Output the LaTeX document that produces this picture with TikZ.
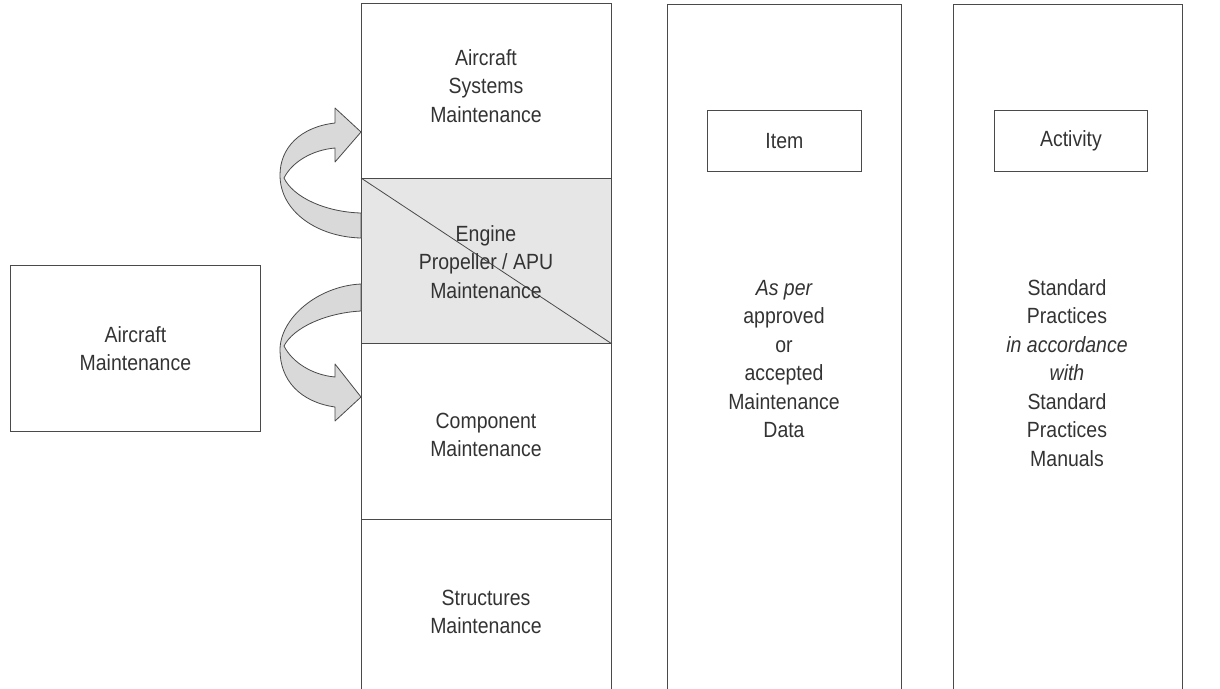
\documentclass[tikz,border=0pt]{standalone}
\usepackage{fontspec}
\setmainfont{Liberation Sans}[FakeStretch=0.885]
\definecolor{linegray}{HTML}{4A4A4A}
\definecolor{textgray}{HTML}{333333}
\definecolor{shade}{HTML}{E6E6E6}
\definecolor{arrowfill}{HTML}{D9D9D9}
\begin{document}
\begin{tikzpicture}[x=1pt,y=-1pt,
  box/.style={draw=linegray, line width=0.8pt, rectangle, inner sep=0pt,
    anchor=north west, align=center, text=textgray,
    font=\fontsize{22}{28.5}\selectfont},
  txt/.style={text=textgray, align=center, inner sep=0pt,
    font=\fontsize{22}{28.5}\selectfont},
  blockarrow/.style={draw=linegray, line width=0.8pt, fill=arrowfill, line join=round}]
\useasboundingbox (0,0) rectangle (1220,688);
\clip (0,0) rectangle (1220,688);

% left box
\node[box, minimum width=250pt, minimum height=166pt] (am) at (10,265) {Aircraft\\Maintenance};

% maintenance column
\node[box, minimum width=250pt, minimum height=175pt] (sys) at (361,3) {};
\node[txt] (systxt) at (486,86) {Aircraft\\Systems\\Maintenance};
\node[box, fill=shade, minimum width=250pt, minimum height=165pt] (eng) at (361,178) {};
\draw[draw=linegray, line width=0.8pt] (eng.north west) -- (eng.south east);
\node[txt] (engtxt) at (486,262) {Engine\\Propeller / APU\\Maintenance};
\node[box, minimum width=250pt, minimum height=176pt] (comp) at (361,343) {};
\node[txt] (comptxt) at (486,435) {Component\\Maintenance};
\node[box, minimum width=250pt, minimum height=190pt] (struct) at (361,519) {};
\node[txt] (structtxt) at (486,612) {Structures\\Maintenance};

% item column
\node[box, minimum width=234pt, minimum height=700pt] (itemcol) at (667,4) {};
\node[box, minimum width=154pt, minimum height=61pt] (item) at (707,110) {};
\node[txt] (itemtxt) at (item.center) {Item};
\node[txt] (itemdesc) at (784,359) {{\itshape As per}\\approved\\or\\accepted\\Maintenance\\Data};

% activity column
\node[box, minimum width=229pt, minimum height=700pt] (actcol) at (953,4) {};
\node[box, minimum width=153pt, minimum height=61pt] (act) at (994,110) {};
\node[txt] (acttxt) at (act.center) {Activity};
\node[txt] (actdesc) at (1067,373) {Standard\\Practices\\{\itshape in accordance}\\{\itshape with}\\Standard\\Practices\\Manuals};

% curved block arrows
\draw[blockarrow] (361,132) -- (335,108) -- (335,123)
  .. controls (300,127) and (280,148) .. (280,175)
  .. controls (280,212) and (318,237) .. (361,238) -- (361,213)
  .. controls (325,212) and (293,197) .. (284,178)
  .. controls (292,162) and (312,150) .. (335,148) -- (335,162) -- cycle;
\draw[blockarrow] (361,397) -- (335,421) -- (335,407)
  .. controls (300,402) and (280,380) .. (280,350)
  .. controls (280,318) and (318,286) .. (361,284) -- (361,311)
  .. controls (325,313) and (293,328) .. (284,346)
  .. controls (292,362) and (312,375) .. (335,377) -- (335,364) -- cycle;
\end{tikzpicture}
\end{document}
